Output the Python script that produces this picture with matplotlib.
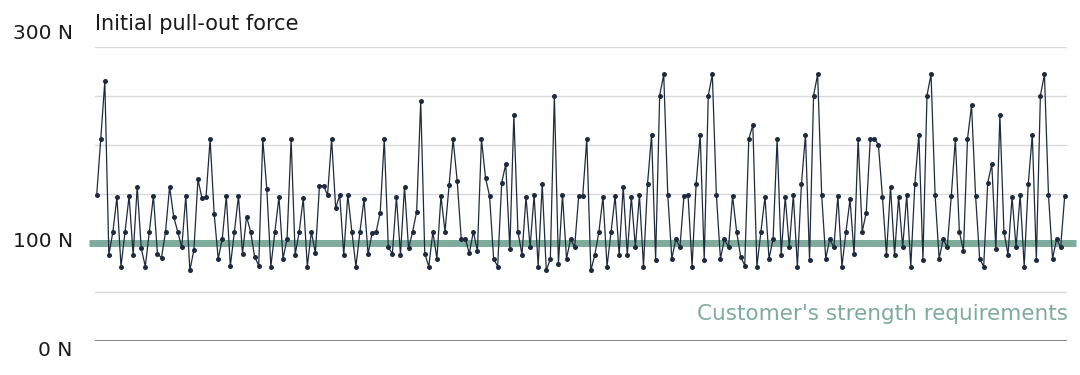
import numpy as np
import matplotlib
matplotlib.use("Agg")
import matplotlib.pyplot as plt

plt.rcParams.update({
    'font.family': ['DejaVu Sans'],
    'figure.dpi': 100,
})

# Initial pull-out force per sample (N)
force_n = [
    149, 206, 265, 88, 111.5, 147, 76, 111.5, 148, 88, 157.5, 94.5, 76, 111.5, 148,
    89, 85, 111.5, 157.5, 127, 111.5, 95.5, 148, 72, 93, 165, 145.5, 147, 206, 130,
    84, 104, 148, 76.5, 111.5, 148, 89, 127, 111.5,
    86, 77, 206, 155, 76, 111.5, 147, 84, 104, 206, 88, 111.5, 145.5, 76, 111.5,
    89.5, 158.5, 158.5, 149, 206, 135.5, 149, 88, 149, 111.5, 76, 111.5, 144.5, 88.5,
    110, 111.5, 131, 206, 95.5, 89, 147, 88, 157.5, 94.5,
    111.5, 132, 245, 89, 76, 111.5, 84, 148, 111.5, 159, 206, 163.5, 104.5, 104.5,
    89.5, 111.5, 92, 206, 166.5, 148, 84, 76, 161.5, 180.5, 94, 230.5, 111.5, 88,
    147, 95.5, 149, 76, 160, 72, 83.5, 250.5, 79, 149, 84, 104,
    95.5, 148, 148, 206, 72, 88, 111.5, 147, 76, 111.5, 148, 88, 157.5, 88, 147,
    95.5, 149, 76, 160, 210.5, 83, 250.5, 272, 149, 84, 104, 95.5, 148, 149, 76,
    160, 210.5, 83, 250.5, 272, 149, 84, 104, 95.5,
    148, 111.5, 86, 77, 206, 220.5, 76, 111.5, 147, 84, 104, 206, 88, 147, 95.5,
    149, 76, 160, 210.5, 83, 250.5, 272, 149, 84, 104, 95.5, 148, 76, 111.5, 144.5,
    88.5, 206, 111.5, 131, 206, 206, 200.5, 147, 88, 157.5,
    88, 147, 95.5, 149, 76, 160, 210.5, 83, 250.5, 272, 149, 84, 104, 95.5, 148,
    206, 111.5, 92, 206, 240.5, 148, 84, 76, 161.5, 180.5, 94, 230.5, 111.5, 88, 147,
    95.5, 149, 76, 160, 210.5, 83, 250.5, 272, 149, 84, 104, 95.5, 148,
]

grid_levels = [50, 150, 200, 250, 300]
tick_values = [300, 100, 0]
tick_labels = ['300 N', '100 N', '0 N']
requirement_n = 100

title = 'Initial pull-out force'
requirement_label = "Customer's strength requirements"

LINE_COLOR = '#1e2a3d'
REQ_COLOR = '#7eab9b'
GRID_COLOR = '#d9d9d9'

fig = plt.figure(figsize=(10.8, 3.75))
ax = fig.add_axes([95 / 1080, 34 / 375, (1067 - 95) / 1080, 294 / 375])

x = np.arange(len(force_n))
ax.set_xlim(-0.42, len(force_n) - 0.43)
ax.set_ylim(0, 300)

# Grid
for g in grid_levels:
    ax.axhline(g, color=GRID_COLOR, linewidth=1, zorder=1)
ax.axhline(0, color='#6e6e6e', linewidth=1.2, zorder=1)

# Requirement line
ax.plot([-2.0, len(force_n) + 1.8], [requirement_n, requirement_n], color=REQ_COLOR,
        linewidth=5, solid_capstyle='butt', zorder=2, clip_on=False)

# Series
ax.plot(x, force_n, color=LINE_COLOR, linewidth=0.9, marker='o', markersize=3.6,
        markeredgewidth=0, zorder=3, clip_on=False)

for s in ax.spines.values():
    s.set_visible(False)
ax.set_xticks([])
ax.set_yticks([])

# Tick labels (placed by hand, offset like the reference)
offsets = {300: 10, 100: 1, 0: -7}
for v, lab in zip(tick_values, tick_labels):
    ax.annotate(lab, xy=(0, v), xycoords=('axes fraction', 'data'),
                xytext=(-16, offsets[v]), textcoords='offset points',
                ha='right', va='center', fontsize=14.5, color='#1a1a1a')

ax.annotate(title, xy=(0, 300), xycoords=('axes fraction', 'data'),
            xytext=(0, 16.5), textcoords='offset points',
            ha='left', va='center', fontsize=15, color='#1a1a1a')

ax.annotate(requirement_label, xy=(1, 28), xycoords=('axes fraction', 'data'),
            xytext=(1, 0), textcoords='offset points',
            ha='right', va='center', fontsize=15.5, color=REQ_COLOR)

fig.savefig('out.png', dpi=100)
